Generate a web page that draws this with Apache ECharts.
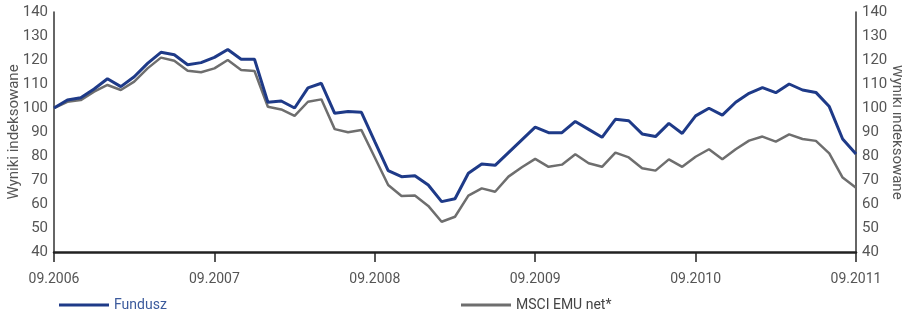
<!DOCTYPE html>
<html>
<head>
<meta charset="utf-8">
<script src="https://cdn.jsdelivr.net/npm/echarts@6/dist/echarts.min.js"></script>
<style>html,body{margin:0;padding:0;background:#fff}#c{width:902px;height:310px}</style>
</head>
<body>
<div id="c"></div>
<script>
// Monthly categories 09.2006 .. 09.2011
const categories = [];
for (let y = 2006, m = 9; !(y === 2011 && m > 9); ) {
  categories.push((m < 10 ? '0' + m : '' + m) + '.' + y);
  m++; if (m > 12) { m = 1; y++; }
}
const fundusz = [100, 103.3, 104.3, 107.9, 112.2, 108.9, 113, 118.6, 123.2, 122.2, 118, 118.9, 121.1, 124.4, 120.3, 120.3, 102.4, 102.9, 100, 108.4, 110.3,
  97.8, 98.5, 98.2, 86, 73.9, 71.4, 71.8, 67.9, 61, 62.2, 72.8, 76.7, 76.1, 81.4, 86.7, 92, 89.7, 89.7, 94.4, 91.1, 87.8, 95.3, 94.7, 89.2, 88.1,
  93.6, 89.4, 96.7, 99.9, 97, 102.4, 106.1, 108.5, 106.4, 110, 107.5, 106.5, 100.6, 87.1, 80.8];
const msci = [100, 102.6, 103.3, 106.8, 109.6, 107.5, 111, 116.5, 121, 119.7, 115.5, 114.9, 116.5, 120, 115.8, 115.4, 100.5, 99.4, 96.7, 102.6, 103.6,
  91.2, 89.9, 90.8, 79.4, 67.9, 63.3, 63.5, 59.2, 52.6, 54.7, 63.5, 66.5, 65.1, 71.4, 75.3, 78.8, 75.5, 76.4, 80.7, 77, 75.5, 81.4, 79.4, 74.9, 73.9,
  78.6, 75.5, 79.7, 82.8, 78.6, 82.8, 86.4, 88.1, 86, 89, 87.1, 86.3, 81.1, 71, 66.8];
const seriesNames = ['Fundusz', 'MSCI EMU net*'];
const axisTitle = 'Wyniki indeksowane';

const chart = echarts.init(document.getElementById('c'), null, {renderer: 'canvas'});
const font = 'Roboto';
const yAxisCommon = {
  type: 'value', min: 40, max: 140, interval: 10,
  splitLine: {show: false},
  axisTick: {show: false},
  axisLine: {show: true, lineStyle: {color: '#333', width: 1.5}},
  axisLabel: {color: '#555', fontSize: 15, fontFamily: font},
  name: axisTitle, nameLocation: 'middle', nameMoveOverlap: false,
  nameTextStyle: {color: '#555', fontSize: 15, fontFamily: font}
};
chart.setOption({
  animation: false,
  grid: {left: 54, right: 46, top: 12, bottom: 58, containLabel: false, outerBoundsMode: 'none'},
  legend: [
    {left: 54, top: 293, itemWidth: 50, itemHeight: 3, icon: 'rect', itemGap: 10,
     data: [{name: seriesNames[0], textStyle: {color: '#3b5a9c'}}],
     textStyle: {fontSize: 14, fontFamily: font}},
    {left: 456, top: 293, itemWidth: 50, itemHeight: 3, icon: 'rect', itemGap: 10,
     data: [{name: seriesNames[1], textStyle: {color: '#444'}}],
     textStyle: {fontSize: 14, fontFamily: font}}
  ],
  xAxis: {
    type: 'category', data: categories, boundaryGap: false,
    axisLine: {lineStyle: {color: '#222', width: 2.5}},
    axisTick: {show: true, interval: 11, length: 10, lineStyle: {color: '#222', width: 1.5}},
    axisLabel: {interval: 11, color: '#555', fontSize: 14, fontFamily: font, margin: 20},
    splitLine: {show: false}
  },
  yAxis: [
    Object.assign({}, yAxisCommon, {position: 'left', nameGap: 32,
      axisLabel: Object.assign({}, yAxisCommon.axisLabel, {margin: 6})}),
    Object.assign({}, yAxisCommon, {position: 'right', nameGap: 33, nameRotate: -90,
      axisLabel: Object.assign({}, yAxisCommon.axisLabel, {margin: 6})})
  ],
  series: [
    {name: seriesNames[1], type: 'line', data: msci, symbol: 'none', z: 2,
     lineStyle: {color: '#6e6e6e', width: 2.5}, itemStyle: {color: '#6e6e6e'}},
    {name: seriesNames[0], type: 'line', data: fundusz, symbol: 'none', z: 3,
     lineStyle: {color: '#1e3a88', width: 3}, itemStyle: {color: '#1e3a88'}}
  ]
});
</script>
</body>
</html>
